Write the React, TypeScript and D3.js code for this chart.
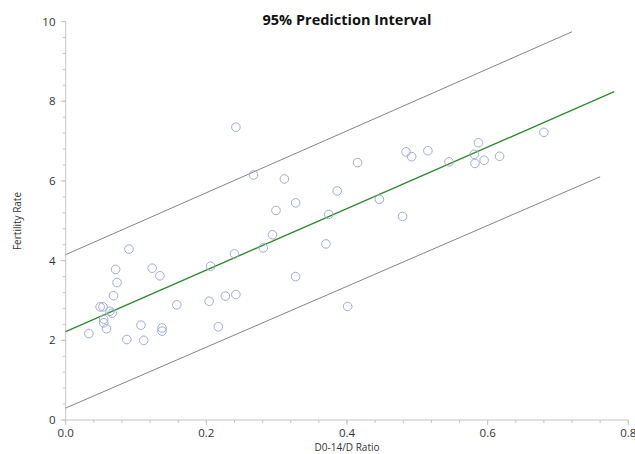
import React from "react";
import * as d3 from "d3";

const xPoints = [0.033,0.049,0.053,0.054,0.054,0.058,0.063,0.066,0.068,0.071,0.073,0.087,0.090,0.107,0.111,0.123,0.134,0.137,0.137,0.158,0.204,0.206,0.217,0.227,0.240,0.242,0.281,0.294,0.327,0.242,0.267,0.311,0.299,0.327,0.370,0.374,0.386,0.401,0.415,0.446,0.479,0.484,0.492,0.515,0.545,0.581,0.582,0.587,0.595,0.617,0.680];
const yPoints = [2.17,2.84,2.84,2.53,2.44,2.29,2.73,2.68,3.12,3.78,3.45,2.02,4.29,2.38,2.00,3.81,3.62,2.31,2.23,2.89,2.98,3.86,2.34,3.11,4.17,3.15,4.32,4.65,3.60,7.35,6.15,6.05,5.26,5.45,4.42,5.16,5.75,2.85,6.46,5.54,5.11,6.73,6.61,6.76,6.48,6.67,6.44,6.96,6.52,6.62,7.22];

const fitLine: [number, number][] = [[0, 2.22], [0.78, 8.24]];
const upperPI: [number, number][] = [[0, 4.15], [0.72, 9.745]];
const lowerPI: [number, number][] = [[0, 0.3], [0.76, 6.105]];

const xTicks = [0, 0.2, 0.4, 0.6, 0.8];
const yTicks = [0, 2, 4, 6, 8, 10];
const xMinor = d3.range(0, 0.8001, 0.04);
const yMinor = d3.range(0, 10.001, 0.4);

const title = "95% Prediction Interval";
const xLabel = "D0-14/D Ratio";
const yLabel = "Fertility Rate";

export default function App() {
  const W = 635, H = 454;
  const x = d3.scaleLinear().domain([0, 0.8]).range([65.7, 628.3]);
  const y = d3.scaleLinear().domain([0, 10]).range([420, 21.6]);
  const line = d3.line<[number, number]>().x(d => x(d[0])).y(d => y(d[1]));
  const font = "'Open Sans', 'Liberation Sans', sans-serif";
  const axisColor = "#c4c4c4";
  return (
    <svg width={W} height={H} style={{ position: "absolute", left: 0, top: 0, background: "#fff" }} fontFamily={font}>
      <text x={347} y={25} textAnchor="middle" fontWeight="bold" fontSize={14.5} fill="#111">{title}</text>
      {/* axes */}
      <line x1={x(0)} x2={x(0.8)} y1={y(0)} y2={y(0)} stroke={axisColor} strokeWidth={1} />
      <line x1={x(0)} x2={x(0)} y1={y(0)} y2={y(10)} stroke={axisColor} strokeWidth={1} />
      {xMinor.map((v, i) => (
        <line key={"xm" + i} x1={x(v)} x2={x(v)} y1={y(0)} y2={y(0) + 3} stroke={axisColor} />
      ))}
      {xTicks.map((v, i) => (
        <g key={"xt" + i}>
          <line x1={x(v)} x2={x(v)} y1={y(0)} y2={y(0) + 5} stroke={axisColor} />
          <text x={x(v)} y={437} textAnchor="middle" fontSize={11.5} fill="#333">{v.toFixed(1)}</text>
        </g>
      ))}
      {yMinor.map((v, i) => (
        <line key={"ym" + i} x1={x(0) - 3} x2={x(0)} y1={y(v)} y2={y(v)} stroke={axisColor} />
      ))}
      {yTicks.map((v, i) => (
        <g key={"yt" + i}>
          <line x1={x(0) - 5} x2={x(0)} y1={y(v)} y2={y(v)} stroke={axisColor} />
          <text x={55.5} y={y(v) + 4} textAnchor="end" fontSize={11.5} fill="#333">{v}</text>
        </g>
      ))}
      <text x={347} y={451} textAnchor="middle" fontSize={10} fill="#333">{xLabel}</text>
      <text transform={`translate(21, 221) rotate(-90)`} textAnchor="middle" fontSize={10} fill="#333">{yLabel}</text>
      {/* lines */}
      <path d={line(upperPI) || ""} fill="none" stroke="#858585" strokeWidth={1} />
      <path d={line(lowerPI) || ""} fill="none" stroke="#858585" strokeWidth={1} />
      <path d={line(fitLine) || ""} fill="none" stroke="#2e8b2e" strokeWidth={1.4} />
      {xPoints.map((v, i) => (
        <circle key={"p" + i} cx={x(v)} cy={y(yPoints[i])} r={4.3} fill="none" stroke="#9fadd0" strokeWidth={1} />
      ))}
    </svg>
  );
}
